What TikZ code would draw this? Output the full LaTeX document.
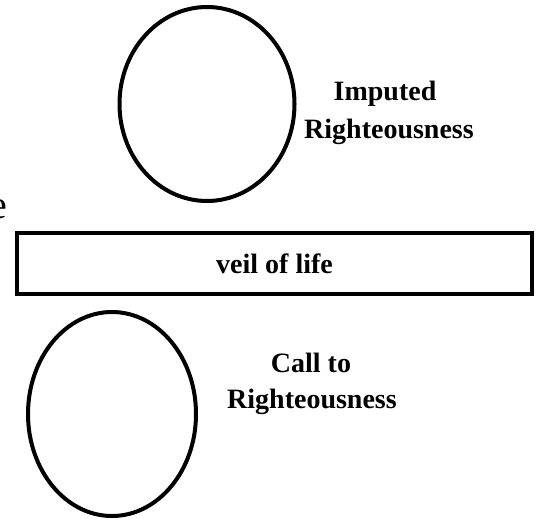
\documentclass[tikz,border=0pt]{standalone}
\usepackage{fontspec}
\setmainfont{Liberation Serif}
\usetikzlibrary{shapes.geometric}
\begin{document}
\begin{tikzpicture}[x=1pt,y=-1pt,
  oval/.style={ellipse,draw,line width=4pt,inner sep=0pt},
  lbl/.style={anchor=base,inner sep=0pt,font=\fontsize{28}{34}\selectfont\bfseries},
  veilbox/.style={draw,line width=4.5pt,inner sep=0pt,font=\fontsize{28}{34}\selectfont\bfseries}]
\useasboundingbox (0,0) rectangle (537,519);
\node[oval,minimum width=175pt,minimum height=194pt] (top) at (207,104) {};
\node[oval,minimum width=168pt,minimum height=204pt] (bot) at (112,414) {};
\node[veilbox,minimum width=515pt,minimum height=61pt] (veil) at (274.5,263.5) {veil of life};
\node[lbl] (imp) at (385,100) {Imputed};
\node[lbl] (righta) at (389,138) {Righteousness};
\node[lbl] (call) at (311,372) {Call to};
\node[lbl] (rightb) at (312,408) {Righteousness};
\node[anchor=base east,inner sep=0pt,font=\fontsize{40}{40}\selectfont] (frag) at (7,218) {e};
\end{tikzpicture}
\end{document}
